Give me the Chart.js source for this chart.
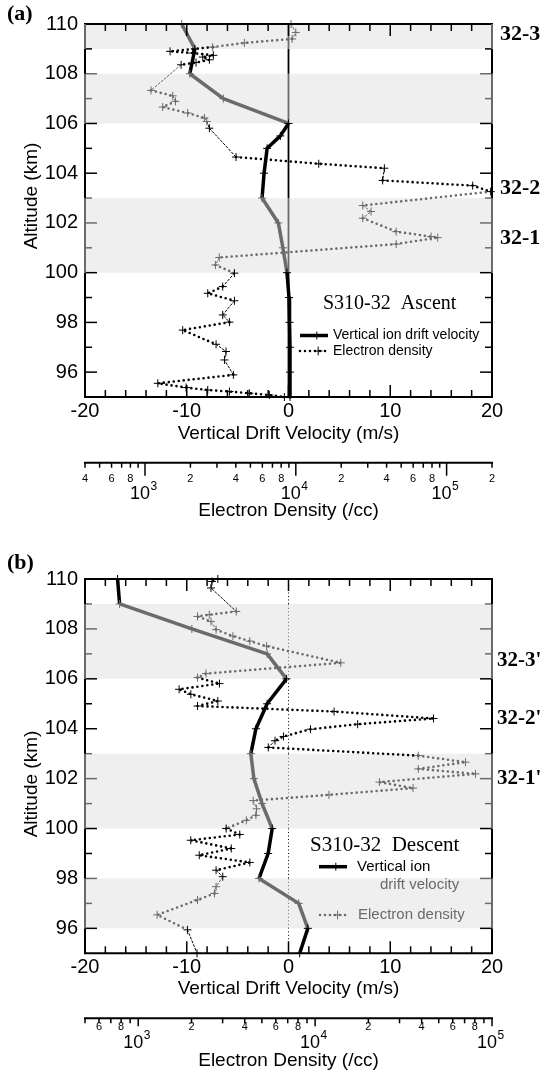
<!DOCTYPE html>
<html>
<head>
<meta charset="utf-8">
<script src="https://cdn.jsdelivr.net/npm/chart.js@4.4.1/dist/chart.umd.min.js"></script>
<style>
  html, body { margin: 0; padding: 0; background: #fff; }
  canvas { display: block; }
</style>
</head>
<body>
<canvas id="chartA" width="544" height="540"></canvas>
<canvas id="chartB" width="544" height="543"></canvas>
<script>
const SANS = '"Liberation Sans", Arial, Helvetica, sans-serif';
const SERIF = '"Liberation Serif", "Times New Roman", Times, serif';
const BLACK = '#000000';
const GRAY = '#6b6b6b';
const SHADE = '#efefef';

// ---- (a) S310-32 ascent ----
const bandsA = [[109, 110], [106, 108], [100, 103]];
const ionAltA = [110, 109, 108, 107, 106, 105.5, 105, 104, 103, 102, 101, 100, 99, 98, 97, 96, 95];
const ionVelA = [-10.5, -9.2, -9.7, -6.4, 0, -0.8, -2.1, -2.4, -2.6, -1.0, -0.55, -0.15, 0.05, 0.1, 0.15, 0.15, 0.15];
const denAltA = [110, 109.66, 109.40, 109.24, 109.07, 108.90, 108.83, 108.74, 108.67, 108.56,
  108.45, 108.36, 107.33, 107.11, 106.89, 106.66, 106.42, 106.22, 106.08, 105.81,
  104.65, 104.38, 104.20, 103.71, 103.50, 103.26, 102.70, 102.46, 102.19, 101.65,
  101.45, 101.41, 101.15, 100.61, 100.31, 99.98, 99.44, 99.17, 98.87, 98.30,
  98.01, 97.69, 97.12, 96.83, 96.49, 95.89, 95.55, 95.38, 95.28, 95.22,
  95.15, 95.08, 95.0];
const denValA = [9300, 10000, 9450, 4560, 2810, 1466, 2070, 2840, 2415, 2675,
  2180, 1735, 1096, 1527, 1592, 1310, 1918, 2476, 2566, 2673,
  4014, 14190, 38660, 37670, 148900, 196000, 27800, 31550, 27800, 46300,
  78900, 87300, 46300, 3110, 2930, 3917, 3275, 2606, 3917, 3275,
  3630, 1778, 2960, 3445, 3365, 3855, 1215, 1872, 2606, 3630,
  4920, 6680, 8400];
const denTicksA = [400, 500, 600, 700, 800, 900, 1000, 2000, 3000, 4000, 5000, 6000, 7000, 8000, 9000,
  10000, 20000, 30000, 40000, 50000, 60000, 70000, 80000, 90000, 100000, 200000];
const regionA = ['32-3', '32-2', '32-1'];
const regionAltA = [109.57, 103.41, 101.40];

// ---- (b) S310-32 descent ----
const bandsB = [[106, 109], [100, 103], [96, 98]];
const ionAltB = [110, 109, 108, 107, 106, 105, 104, 103, 102, 101, 100, 99, 98, 97, 96, 95];
const ionVelB = [-16.8, -16.6, -9.5, -2.1, -0.2, -2.1, -3.2, -3.7, -3.4, -2.6, -1.6, -2.0, -2.9, 1.0, 1.9, 1.1];
const denAltB = [110, 109.9, 109.64, 108.70, 108.57, 108.50, 108.30, 107.97, 107.71, 107.51,
  107.31, 106.64, 106.21, 106.05, 105.81, 105.58, 105.38, 105.11, 104.91, 104.69,
  104.41, 104.18, 103.98, 103.69, 103.52, 103.25, 102.92, 102.66, 102.39, 102.19,
  101.86, 101.62, 101.35, 101.12, 100.79, 100.53, 100.33, 100.0, 99.76, 99.53,
  99.20, 98.93, 98.64, 98.33, 98.07, 97.67, 97.40, 97.14, 96.54, 95.94,
  95.0];
const denValB = [2818, 2612, 2578, 3581, 2521, 2163, 2578, 2755, 3428, 4273,
  5318, 13960, 2416, 2163, 2878, 1702, 1984, 2818, 2163, 12800,
  46700, 17400, 9415, 6630, 5935, 5437, 38300, 70800, 38300, 80700,
  23100, 35800, 11970, 4467, 4667, 4627, 4083, 3141, 3749, 1982,
  3357, 2213, 4275, 2755, 3006, 2755, 2697, 2163, 1279, 1897,
  2150];
const denTicksB = [500, 600, 700, 800, 900, 1000, 2000, 3000, 4000, 5000, 6000, 7000, 8000, 9000,
  10000, 20000, 30000, 40000, 50000, 60000, 70000, 80000, 90000, 100000];
const regionB = ["32-3'", "32-2'", "32-1'"];
const regionAltB = [106.75, 104.42, 102.01];

function inBand(bands, h) {
  return bands.some(b => h > b[0] && h <= b[1]);
}
function shade(bands, h) {
  return inBand(bands, h) ? GRAY : BLACK;
}
function midAlt(c) {
  const d = c.chart.data.datasets[c.datasetIndex].data;
  return (d[c.p0DataIndex].y + d[c.p1DataIndex].y) / 2;
}
// steep stretches of the density profile are drawn thin and dashed
function steep(c) {
  return Math.abs(c.p1.y - c.p0.y) > 0.6 * Math.abs(c.p1.x - c.p0.x);
}
function decade(v) {
  return Math.abs(Math.log10(v) - Math.round(Math.log10(v))) < 1e-6;
}
// minor labels 2,4,6,8 come from the scale; decades are written as 10^n by the plugin
function densLabel(v) {
  if (decade(v)) return '';
  const e = Math.floor(Math.log10(v) + 1e-9);
  const m = Math.round(v / Math.pow(10, e));
  return m % 2 === 0 ? String(m) : '';
}
function zeroAlt(bands) {
  const e = [95, 110];
  bands.forEach(b => e.push(b[0], b[1]));
  return [...new Set(e)].sort((a, b) => a - b);
}

function line(ctx, x0, y0, x1, y1) {
  ctx.beginPath();
  ctx.moveTo(x0, y0);
  ctx.lineTo(x1, y1);
  ctx.stroke();
}
function cross(ctx, x, y, r) {
  line(ctx, x - r, y, x + r, y);
  line(ctx, x, y - r, x, y + r);
}
function text(ctx, s, x, y, font, color, align) {
  ctx.save();
  ctx.font = font;
  ctx.fillStyle = color;
  ctx.textAlign = align || 'left';
  ctx.textBaseline = 'middle';
  ctx.fillText(s, x, y);
  ctx.restore();
}
function altTitle(ctx, x, y) {
  ctx.save();
  ctx.translate(x, y);
  ctx.rotate(-Math.PI / 2);
  text(ctx, 'Altitude (km)', 0, 0, '19px ' + SANS, BLACK, 'center');
  ctx.restore();
}
function solidSample(ctx, x0, x1, y, color) {
  ctx.save();
  ctx.strokeStyle = color;
  ctx.lineWidth = 3.5;
  line(ctx, x0, y, x1, y);
  ctx.lineWidth = 1;
  cross(ctx, x0 + (x1 - x0) * 0.6, y, 4);
  ctx.restore();
}
function dottedSample(ctx, x0, x1, y, color) {
  ctx.save();
  ctx.strokeStyle = color;
  ctx.lineWidth = 2.6;
  ctx.lineCap = 'round';
  ctx.setLineDash([0, 5]);
  line(ctx, x0, y, x1, y);
  ctx.setLineDash([]);
  ctx.lineWidth = 1;
  cross(ctx, x0 + (x1 - x0) * 0.65, y, 4);
  ctx.restore();
}

function notesA(ctx, chart) {
  const y = chart.scales.y;
  text(ctx, '(a)', 7, 14, 'bold 22px ' + SERIF, BLACK);
  altTitle(ctx, 32, 196);
  regionA.forEach((s, i) => text(ctx, s, 500, y.getPixelForValue(regionAltA[i]), 'bold 22px ' + SERIF, BLACK));
  text(ctx, 'S310-32  Ascent', 323, 304, '20px ' + SERIF, BLACK);
  solidSample(ctx, 300, 328, 335.5, BLACK);
  text(ctx, 'Vertical ion drift velocity', 333, 335, '14px ' + SANS, BLACK);
  dottedSample(ctx, 300, 328, 351, BLACK);
  text(ctx, 'Electron density', 333, 351.5, '14px ' + SANS, BLACK);
}

function notesB(ctx, chart) {
  const y = chart.scales.y;
  text(ctx, '(b)', 7, 23, 'bold 22px ' + SERIF, BLACK);
  altTitle(ctx, 32, 244);
  regionB.forEach((s, i) => text(ctx, s, 497, y.getPixelForValue(regionAltB[i]), 'bold 21px ' + SERIF, BLACK));
  text(ctx, 'S310-32  Descent', 310, 305, '21px ' + SERIF, BLACK);
  solidSample(ctx, 319, 347, 326.7, BLACK);
  text(ctx, 'Vertical ion', 357, 327, '15px ' + SANS, BLACK);
  text(ctx, 'drift velocity', 380, 345, '15px ' + SANS, GRAY);
  dottedSample(ctx, 320, 347, 375, GRAY);
  text(ctx, 'Electron density', 358, 375, '15px ' + SANS, GRAY);
}

function framePlugin(p) {
  return {
    id: 'frame',
    beforeDatasetsDraw(chart) {
      const {ctx, chartArea: ca} = chart;
      const y = chart.scales.y;
      ctx.save();
      ctx.fillStyle = SHADE;
      p.bands.forEach(b => {
        const t = y.getPixelForValue(b[1]);
        const bt = y.getPixelForValue(b[0]);
        ctx.fillRect(ca.left, t, ca.right - ca.left, bt - t);
      });
      ctx.restore();
    },
    afterDatasetsDraw(chart) {
      const {ctx, chartArea: ca} = chart;
      const {x, y, xd} = chart.scales;
      ctx.save();
      ctx.lineWidth = 1.5;
      // altitude ticks, inward on both sides
      for (let h = 96; h < 110; h++) {
        const py = y.getPixelForValue(h);
        const len = h % 2 === 0 ? 12 : 7;
        ctx.strokeStyle = shade(p.bands, h);
        line(ctx, ca.left, py, ca.left + len, py);
        line(ctx, ca.right - len, py, ca.right, py);
      }
      // velocity ticks, top and bottom
      ctx.strokeStyle = BLACK;
      for (let v = -18; v <= 18; v += 2) {
        const px = x.getPixelForValue(v);
        const len = v % 10 === 0 ? 12 : 7;
        line(ctx, px, ca.top, px, ca.top + len);
        line(ctx, px, ca.bottom - len, px, ca.bottom);
      }
      // box
      ctx.lineWidth = 2;
      line(ctx, ca.left - 1, ca.top, ca.right + 1, ca.top);
      line(ctx, ca.left - 1, ca.bottom, ca.right + 1, ca.bottom);
      const edges = zeroAlt(p.bands);
      for (let i = 0; i < edges.length - 1; i++) {
        ctx.strokeStyle = shade(p.bands, (edges[i] + edges[i + 1]) / 2);
        const y0 = y.getPixelForValue(edges[i]);
        const y1 = y.getPixelForValue(edges[i + 1]);
        line(ctx, ca.left, y0, ca.left, y1);
        line(ctx, ca.right, y0, ca.right, y1);
      }
      // electron density axis
      ctx.strokeStyle = BLACK;
      line(ctx, xd.left - 1, xd.top, xd.right + 1, xd.top);
      ctx.lineWidth = 1.5;
      xd.ticks.forEach(t => {
        const px = xd.getPixelForValue(t.value);
        line(ctx, px, xd.top, px, xd.top + (decade(t.value) ? p.decadeTick : 5));
      });
      ctx.restore();
    },
    afterDraw(chart) {
      const ctx = chart.ctx;
      const xd = chart.scales.xd;
      xd.ticks.forEach(t => {
        if (!decade(t.value)) return;
        const px = xd.getPixelForValue(t.value);
        text(ctx, '10', px + 5, p.decY, '18px ' + SANS, BLACK, 'right');
        text(ctx, String(Math.round(Math.log10(t.value))), px + 5.5, p.decY - 8, '12px ' + SANS, BLACK, 'left');
      });
      p.notes(ctx, chart);
    }
  };
}

function profileChart(id, p) {
  return new Chart(document.getElementById(id), {
    type: 'scatter',
    data: {
      datasets: [
        {
          label: 'Vertical ion drift velocity',
          data: p.ionAlt.map((h, i) => ({x: p.ionVel[i], y: h})),
          xAxisID: 'x',
          showLine: true,
          borderWidth: 3.5,
          borderColor: BLACK,
          borderJoinStyle: 'round',
          pointStyle: 'cross',
          pointRadius: 4,
          pointBorderWidth: 1,
          pointBorderColor: c => c.raw ? shade(p.bands, c.raw.y) : BLACK,
          segment: {borderColor: c => shade(p.bands, midAlt(c))},
          clip: false
        },
        {
          label: 'Electron density',
          data: p.denAlt.map((h, i) => ({x: p.denVal[i], y: h})),
          xAxisID: 'xd',
          showLine: true,
          borderWidth: 2.6,
          borderColor: BLACK,
          borderCapStyle: 'round',
          pointStyle: 'cross',
          pointRadius: 4,
          pointBorderWidth: 1,
          pointBorderColor: c => c.raw ? shade(p.bands, c.raw.y) : BLACK,
          segment: {
            borderColor: c => shade(p.bands, midAlt(c)),
            borderWidth: c => steep(c) ? 1 : 2.6,
            borderDash: c => steep(c) ? [2, 2] : [0, 5]
          },
          clip: false
        },
        {
          label: 'zero',
          data: zeroAlt(p.bands).map(h => ({x: 0, y: h})),
          xAxisID: 'x',
          showLine: true,
          pointRadius: 0,
          borderWidth: p.zeroWidth,
          borderDash: p.zeroDash,
          borderColor: BLACK,
          segment: {borderColor: c => shade(p.bands, midAlt(c))}
        }
      ]
    },
    options: {
      responsive: false,
      animation: false,
      devicePixelRatio: 1,
      events: [],
      layout: {padding: {top: p.padTop, right: 52, left: 0, bottom: 0}},
      plugins: {legend: {display: false}, tooltip: {enabled: false}},
      scales: {
        x: {
          type: 'linear',
          position: 'bottom',
          weight: 0,
          min: -20,
          max: 20,
          ticks: {
            stepSize: 10,
            autoSkip: false,
            maxRotation: 0,
            padding: 2,
            color: BLACK,
            font: {family: SANS, size: 20},
            callback: v => String(v)
          },
          grid: {display: false, drawTicks: false},
          border: {display: false},
          title: {
            display: true,
            text: 'Vertical Drift Velocity (m/s)',
            color: BLACK,
            font: {family: SANS, size: 19},
            padding: {top: 0, bottom: 18}
          },
          afterFit: s => { s.height = p.xHeight; }
        },
        xd: {
          type: 'logarithmic',
          position: 'bottom',
          weight: 1,
          min: p.denMin,
          max: p.denMax,
          afterBuildTicks: s => { s.ticks = p.denTicks.map(v => ({value: v, major: decade(v)})); },
          ticks: {
            autoSkip: false,
            maxRotation: 0,
            padding: p.xdPad,
            color: BLACK,
            font: {family: SANS, size: 11},
            callback: v => densLabel(v)
          },
          grid: {display: false, drawTicks: false},
          border: {display: false},
          title: {
            display: true,
            text: 'Electron Density (/cc)',
            color: BLACK,
            font: {family: SANS, size: 19},
            padding: {top: 0, bottom: p.xdTitlePad}
          },
          afterFit: s => { s.height = p.xdHeight; }
        },
        y: {
          type: 'linear',
          min: 95,
          max: 110,
          ticks: {
            stepSize: 2,
            autoSkip: false,
            padding: 7,
            color: BLACK,
            font: {family: SANS, size: 20},
            callback: v => v % 2 === 0 ? String(v) : ''
          },
          grid: {display: false, drawTicks: false},
          border: {display: false},
          afterFit: s => { s.width = 85; }
        }
      }
    },
    plugins: [framePlugin(p)]
  });
}

profileChart('chartA', {
  ionAlt: ionAltA, ionVel: ionVelA, denAlt: denAltA, denVal: denValA,
  denTicks: denTicksA, bands: bandsA, denMin: 400, denMax: 200000,
  padTop: 24, xHeight: 65.7, xdHeight: 77.3, xdPad: 10, xdTitlePad: 18, decY: 494.5,
  decadeTick: 13, zeroWidth: 1.8, zeroDash: [], notes: notesA
});

profileChart('chartB', {
  ionAlt: ionAltB, ionVel: ionVelB, denAlt: denAltB, denVal: denValB,
  denTicks: denTicksB, bands: bandsB, denMin: 500, denMax: 100000,
  padTop: 39, xHeight: 65, xdHeight: 64.7, xdPad: 2, xdTitlePad: 11, decY: 503.3,
  decadeTick: 8, zeroWidth: 1, zeroDash: [1, 2.5], notes: notesB
});
</script>
</body>
</html>
